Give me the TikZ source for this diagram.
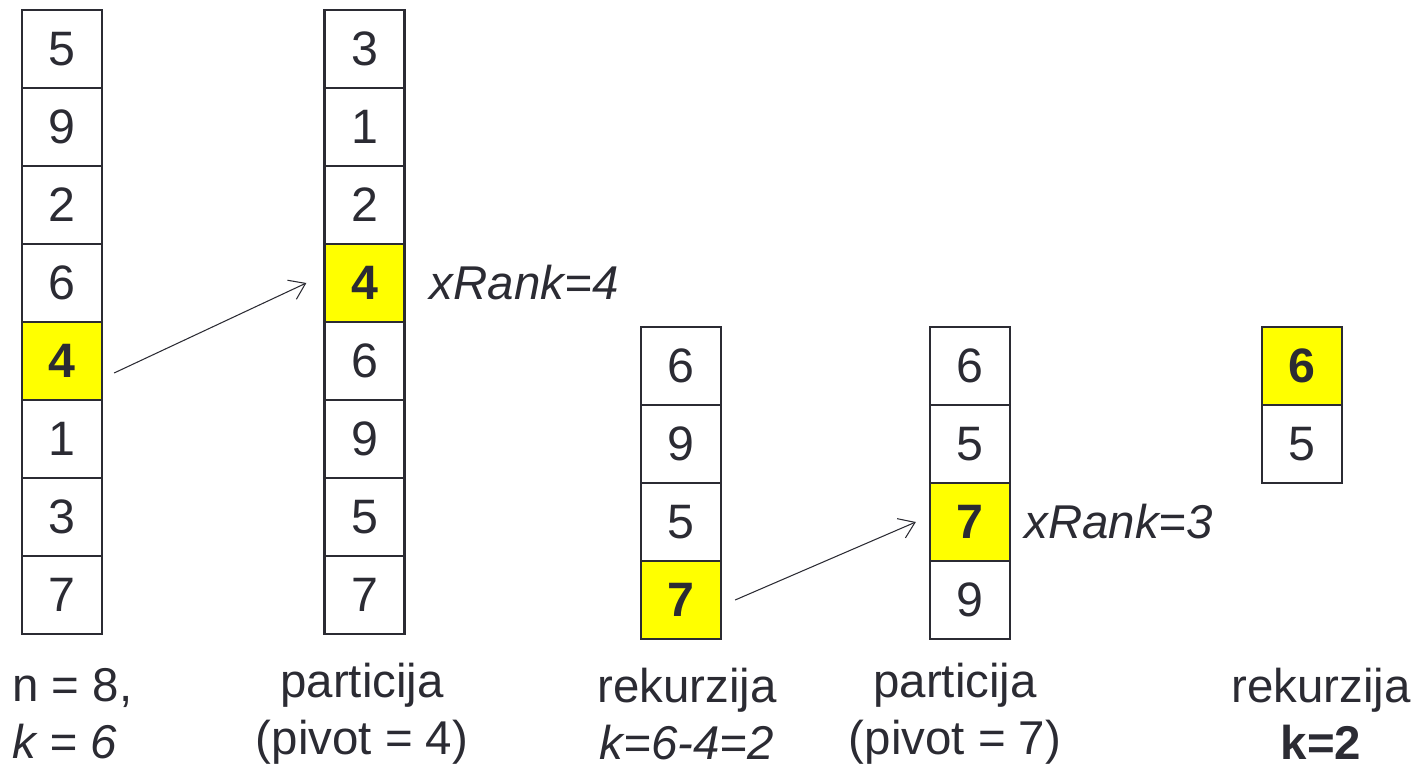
\documentclass[tikz,border=0pt]{standalone}
\usepackage{fontspec}
\setmainfont{Liberation Sans}
\usetikzlibrary{arrows.meta,calc}

\definecolor{ink}{HTML}{2B2B33}
\definecolor{hilite}{HTML}{FFFF00}

\tikzset{
  cell/.style={draw=ink, line width=1.3pt, fill=white, text=ink,
    minimum width=1.6cm, minimum height=1.56cm, inner sep=0pt,
    font=\fontsize{27.5}{33}\selectfont},
  pivotcell/.style={cell, fill=hilite, font=\fontsize{27.5}{33}\selectfont\bfseries},
  caption/.style={text=ink, align=center, inner sep=0pt,
    font=\fontsize{27}{32.5}\selectfont},
  rank/.style={text=ink, anchor=west, inner sep=0pt,
    font=\fontsize{27}{33}\selectfont\itshape},
  moveto/.style={-{Straight Barb[length=0.3cm, width=0.42cm]}, draw=ink, line width=0.6pt}
}

\begin{document}
\begin{tikzpicture}[x=0.02cm, y=0.02cm]
  \useasboundingbox (0,0) rectangle (1418,-766);

  % input array
  \foreach \v/\s [count=\i] in {5/cell,9/cell,2/cell,6/cell,4/pivotcell,1/cell,3/cell,7/cell}
    \node[\s] (a\i) at (62,{-49-78*(\i-1)}) {\v};
  % after partition around 4
  \foreach \v/\s [count=\i] in {3/cell,1/cell,2/cell,4/pivotcell,6/cell,9/cell,5/cell,7/cell}
    \node[\s] (b\i) at (364.5,{-49-78*(\i-1)}) {\v};
  % right part, recursion
  \foreach \v/\s [count=\i] in {6/cell,9/cell,5/cell,7/pivotcell}
    \node[\s] (c\i) at (681,{-366-78*(\i-1)}) {\v};
  % after partition around 7
  \foreach \v/\s [count=\i] in {6/cell,5/cell,7/pivotcell,9/cell}
    \node[\s] (d\i) at (970,{-366-78*(\i-1)}) {\v};
  % left part, recursion
  \foreach \v/\s [count=\i] in {6/pivotcell,5/cell}
    \node[\s] (e\i) at (1302,{-366-78*(\i-1)}) {\v};

  % pivot moves
  \draw[moveto] ($(a5.east)+(11,-12)$) -- ($(b4.west)+(-17,0)$);
  \draw[moveto] ($(c4.east)+(13,0)$) -- ($(d3.west)+(-13,0)$);

  \node[rank] (r1) at ($(b4.east)+(24,0)$) {xRank=4};
  \node[rank] (r2) at ($(d3.east)+(13,0)$) {xRank=3};

  % captions
  \node[caption, align=left, anchor=west] (l1) at (12,-714) {n = 8,\\\textit{k = 6}};
  \node[caption] (l2) at (362,-714) {particija\\(pivot = 4)};
  \node[caption] (l3) at (687,-714) {rekurzija\\\textit{k=6-4=2}};
  \node[caption] (l4) at (955,-714) {particija\\(pivot = 7)};
  \node[caption] (l5) at (1321,-714) {rekurzija\\\textbf{k=2}};
\end{tikzpicture}
\end{document}
